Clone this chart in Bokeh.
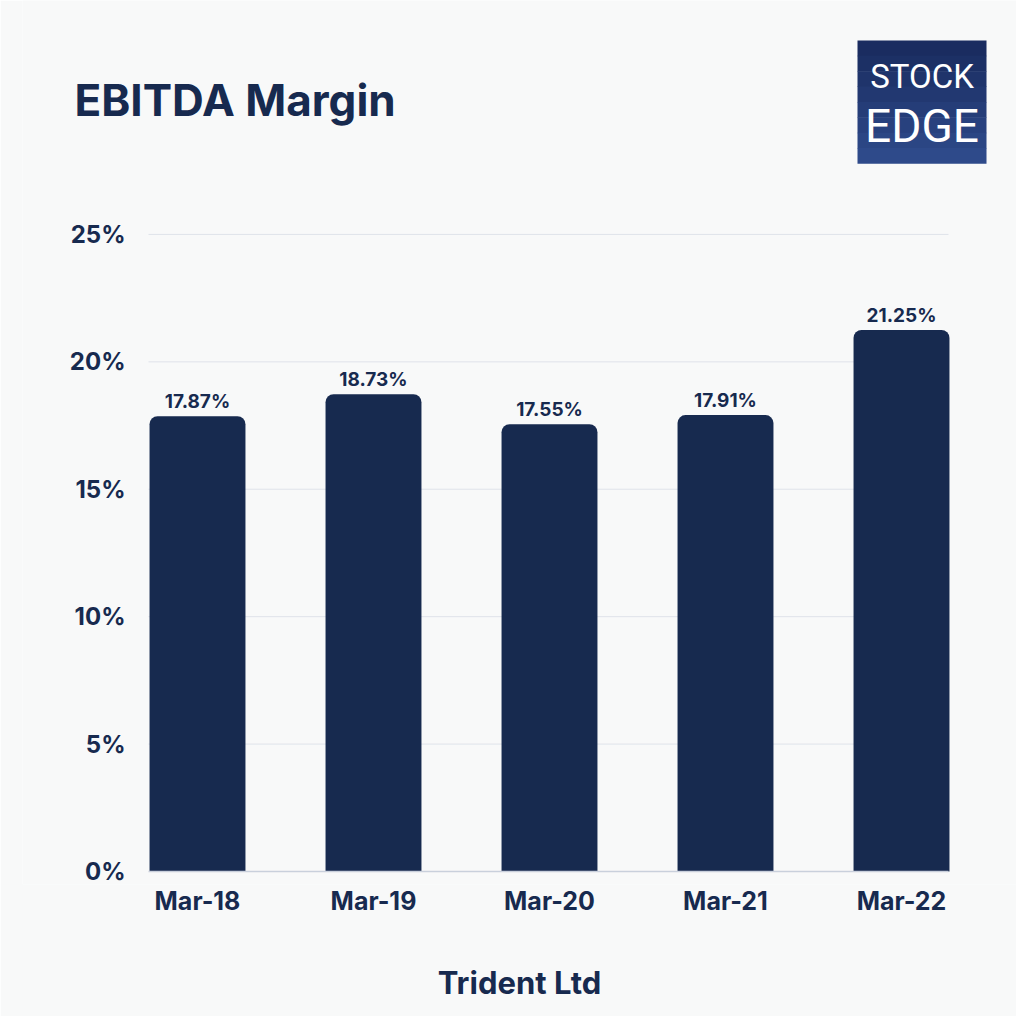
from bokeh.plotting import figure
from bokeh.models import ColumnDataSource, Range1d, FixedTicker, LabelSet
from bokeh.core.properties import value
from bokeh.embed import file_html
from bokeh.resources import INLINE

categories = ["Mar-18", "Mar-19", "Mar-20", "Mar-21", "Mar-22"]
margins = [17.87, 18.73, 17.55, 17.91, 21.25]
y_ticks = [0, 5, 10, 15, 20, 25]
y_tick_labels = ["0%", "5%", "10%", "15%", "20%", "25%"]

NAVY = "#172a4f"
BG = "#f8f9f9"
FONT = "Inter"

# frame covers the canvas except the strip below the baseline (for the x axis)
p = figure(width=1016, height=1016, output_backend="svg", toolbar_location=None,
           x_range=Range1d(-0.9943, 4.6534), y_range=Range1d(-0.51, 34.18),
           y_axis_location=None,
           min_border_left=22, min_border_right=0, min_border_top=0, min_border_bottom=132)
p.background_fill_color = BG
p.border_fill_color = BG
p.outline_line_color = None
p.grid.visible = False

xs = list(range(len(categories)))
GX0, GX1 = -0.2784, 4.267   # horizontal extent of the plotting area

# gridlines (5..25) and baseline (0)
grid_src = ColumnDataSource(dict(y=y_ticks[1:]))
p.segment(x0=GX0, x1=GX1, y0="y", y1="y", source=grid_src, line_color="#dfe3ea", line_width=1)

src = ColumnDataSource(dict(x=xs, top=margins, lbl=[f"{v:.2f}%" for v in margins]))
p.vbar(x="x", top="top", width=0.545, source=src, fill_color=NAVY, line_color=None,
       border_radius=(8, 8, 0, 0))
p.segment(x0=[GX0], x1=[GX1], y0=[0], y1=[0], line_color="#c9d0dc", line_width=1.5)

p.add_layout(LabelSet(x="x", y="top", text="lbl", source=src, text_align="center",
                      text_baseline="bottom", y_offset=3, text_font=value(FONT),
                      text_font_style="bold", text_font_size="19px", text_color=NAVY))

# y tick labels
ytick_src = ColumnDataSource(dict(y=y_ticks, t=y_tick_labels))
p.text(x=-0.409, y="y", text="t", source=ytick_src, text_font=value(FONT),
       text_font_style="bold", text_font_size="24px", text_color=NAVY,
       text_align="right", text_baseline="middle")

# x axis (labels only)
p.xaxis.ticker = FixedTicker(ticks=xs)
p.xaxis.major_label_overrides = {i: c for i, c in enumerate(categories)}
p.xaxis.major_label_text_font = FONT
p.xaxis.major_label_text_font_style = "bold"
p.xaxis.major_label_text_font_size = "25px"
p.xaxis.major_label_text_color = NAVY
p.xaxis.major_label_standoff = -5
p.xaxis.axis_line_color = None
p.xaxis.major_tick_line_color = None
p.xaxis.minor_tick_line_color = None
p.xaxis.axis_label = "Trident Ltd"
p.xaxis.axis_label_text_font = FONT
p.xaxis.axis_label_text_font_style = "bold"
p.xaxis.axis_label_text_font_size = "31px"
p.xaxis.axis_label_text_color = NAVY
p.xaxis.axis_label_standoff = 45

# title
p.text(x=[-0.699], y=[30.26], text=["EBITDA Margin"], text_font=value(FONT),
       text_font_style="bold", text_font_size="44px", text_color=NAVY,
       text_align="left", text_baseline="middle")

# logo (gradient box with white text)
L, R, T, B = 3.750, 4.483, 32.61, 27.79
grad = ["#1a2c60", "#1c3065", "#1f346b", "#223871", "#253d78", "#28417e", "#2b4684", "#2e4a8a"]
n = len(grad)
p.quad(left=[L] * n, right=[R] * n,
       top=[T - (T - B) * i / n for i in range(n)],
       bottom=[T - (T - B) * (i + 1) / n - 0.02 for i in range(n)],
       fill_color=grad, line_color=None)
p.text(x=[(L + R) / 2], y=[31.20], text=["STOCK"], text_font=value("Roboto"),
       text_font_size="33px", text_color="white", text_align="center", text_baseline="middle")
p.text(x=[(L + R) / 2], y=[29.24], text=["EDGE"], text_font=value("Roboto"),
       text_font_size="46px", text_color="white", text_align="center", text_baseline="middle")

open("out.html", "w").write(file_html(p, INLINE))
